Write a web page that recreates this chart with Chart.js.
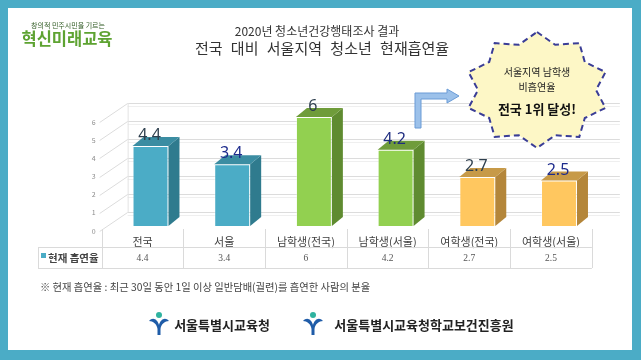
<!DOCTYPE html>
<html>
<head>
<meta charset="utf-8">
<title>전국 대비 서울지역 청소년 현재흡연율</title>
<style>
    body
    {
        margin: 0;
        width: 641px;
        height: 360px;
        background: #4bacc6;
        position: relative;
        overflow: hidden;
        font-family: "Noto Sans CJK KR", "Noto Sans", sans-serif;
    }

    #panel
    {
        position: absolute;
        left: 8px; top: 8px;
        width: 624px; height: 342px;
        background: #ffffff;
    }

    #barChart
    {
        position: absolute;
        left: 0; top: 0;
    }

    .txt
    {
        position: absolute;
        line-height: 1;
        white-space: nowrap;
        transform: translate(-50%, -50%);
    }

    svg.deco
    {
        position: absolute;
        left: 0; top: 0;
    }
</style>
<script src="https://cdn.jsdelivr.net/npm/chart.js"></script>
</head>
<body>
<div id="panel"></div>
<canvas id="barChart" width="641" height="360"></canvas>

<svg class="deco" width="641" height="360">
    <!-- arrow pointing at the callout -->
    <path d="M415,128 L415,93 L447,93 L447,89 L459,96 L447,103 L447,99 L421,99 L421,128 Z"
          fill="#9cc1ea" stroke="#6a9bd6" stroke-width="1"/>
    <polygon id="star" fill="#fdf7c6" stroke="#3a3d96" stroke-width="2" stroke-dasharray="6 4"/>
    <!-- footer emblems -->
    <g transform="translate(148,312)">
        <circle cx="11" cy="3" r="3" fill="#2fb3a0"/>
        <path d="M1,9 C5,4 10,8 11,13 C12,8 17,4 21,9 C17,9 13,12 12.5,17 L12.5,23 L9.5,23 L9.5,17 C9,12 5,9 1,9 Z" fill="#1f5ca8"/>
    </g>
    <g transform="translate(302,312)">
        <circle cx="11" cy="3" r="3" fill="#2fb3a0"/>
        <path d="M1,9 C5,4 10,8 11,13 C12,8 17,4 21,9 C17,9 13,12 12.5,17 L12.5,23 L9.5,23 L9.5,17 C9,12 5,9 1,9 Z" fill="#1f5ca8"/>
    </g>
</svg>

<div class="txt" style="left:68px; top:25px; font-size:7px; color:#2f5a22;">창의적 민주시민을 기르는</div>
<div class="txt" style="left:67px; top:38px; font-size:16.5px; font-weight:bold; color:#5ea332;">혁신미래교육</div>

<div class="txt" style="left:317px; top:31px; font-size:12px; color:#333;">2020년 청소년건강행태조사 결과</div>
<div class="txt" style="left:322px; top:47px; font-size:15px; color:#333; word-spacing:5px;">전국 대비 서울지역 청소년 현재흡연율</div>

<div class="txt" style="left:537px; top:72px; font-size:10px; color:#222;">서울지역 남학생</div>
<div class="txt" style="left:537px; top:87px; font-size:10px; color:#222;">비흡연율</div>
<div class="txt" style="left:537px; top:108px; font-size:13px; font-weight:bold; color:#111;">전국 1위 달성!</div>

<div class="txt" style="left:40px; top:287px; font-size:10.3px; color:#444; transform:translate(0,-50%);">※ 현재 흡연율 : 최근 30일 동안 1일 이상 일반담배(궐련)를 흡연한 사람의 분율</div>

<div class="txt" style="left:222px; top:324px; font-size:13px; font-weight:bold; color:#222;">서울특별시교육청</div>
<div class="txt" style="left:424px; top:324px; font-size:13px; font-weight:bold; color:#222;">서울특별시교육청학교보건진흥원</div>

<script>
    // chart data
    const categories = ["전국", "서울", "남학생(전국)", "남학생(서울)", "여학생(전국)", "여학생(서울)"];
    const smokingRate = [4.4, 3.4, 6, 4.2, 2.7, 2.5];
    const yTicks = [0, 1, 2, 3, 4, 5, 6];
    const seriesLabel = "현재 흡연율";

    // bar face colours (front / side / top) and value label colours
    const frontColors = ["#4bacc6", "#4bacc6", "#92d050", "#92d050", "#ffc75f", "#ffc75f"];
    const sideColors  = ["#2f7b8e", "#2f7b8e", "#5f8b30", "#5f8b30", "#b4863a", "#b4863a"];
    const topColors   = ["#3b8da2", "#3b8da2", "#6f9c3a", "#6f9c3a", "#c79a48", "#c79a48"];
    const labelColors = ["#2e3f4e", "#1d2b8c", "#2e3f4e", "#1f2d80", "#2e3f4e", "#1d2b8c"];

    // starburst outline for the callout
    (function ()
    {
        let pts = [];
        for (let i = 0; i < 20; i++)
        {
            const a = -Math.PI / 2 + i * Math.PI / 10;
            const r = i % 2 === 0 ? 1 : 0.82;
            pts.push((537 + 72 * r * Math.cos(a)).toFixed(1) + "," + (90 + 58 * r * Math.sin(a)).toFixed(1));
        }
        document.getElementById("star").setAttribute("points", pts.join(" "));
    })();

    const DX = 11, DY = -9;

    const bars3d = {
        id: "bars3d",
        beforeDatasetsDraw(chart)
        {
            const {ctx, chartArea, scales: {y}} = chart;
            ctx.save();
            ctx.lineWidth = 1;
            yTicks.forEach(v => {
                const yf = Math.round(y.getPixelForValue(v) + 5) + 0.5;
                ctx.strokeStyle = "#dcdcdc";
                ctx.beginPath();
                ctx.moveTo(chartArea.left - 10, yf);
                ctx.lineTo(chartArea.left + 18, yf - 19);
                ctx.lineTo(chartArea.right + 20, yf - 19);
                ctx.stroke();
                ctx.strokeStyle = "#efefef";
                ctx.beginPath();
                ctx.moveTo(chartArea.left + 18, yf - 16);
                ctx.lineTo(chartArea.right + 20, yf - 16);
                ctx.stroke();
            });
            ctx.strokeStyle = "#e4e4e4";
            ctx.beginPath();
            ctx.moveTo(chartArea.left + 18.5, y.getPixelForValue(0) - 14);
            ctx.lineTo(chartArea.left + 18.5, y.getPixelForValue(6) - 14);
            ctx.stroke();
            ctx.restore();
        },
        afterDatasetsDraw(chart)
        {
            const ctx = chart.ctx;
            const meta = chart.getDatasetMeta(0);
            ctx.save();
            meta.data.forEach((bar, i) => {
                const l = bar.x - bar.width / 2, r = bar.x + bar.width / 2;
                ctx.fillStyle = sideColors[i];
                ctx.beginPath();
                ctx.moveTo(r, bar.y);
                ctx.lineTo(r + DX, bar.y + DY);
                ctx.lineTo(r + DX, bar.base + DY);
                ctx.lineTo(r, bar.base);
                ctx.closePath();
                ctx.fill();
                ctx.fillStyle = topColors[i];
                ctx.beginPath();
                ctx.moveTo(l, bar.y);
                ctx.lineTo(l + DX, bar.y + DY);
                ctx.lineTo(r + DX, bar.y + DY);
                ctx.lineTo(r, bar.y);
                ctx.closePath();
                ctx.fill();

                ctx.fillStyle = labelColors[i];
                ctx.font = '16px "Noto Sans", sans-serif';
                ctx.textAlign = "center";
                ctx.textBaseline = "alphabetic";
                ctx.fillText(String(smokingRate[i]), bar.x - 1, bar.y - 6);
            });
            ctx.restore();
        },
        afterDraw(chart)
        {
            // data table under the axis
            const {ctx, scales: {x}} = chart;
            const step = x.getPixelForValue(1) - x.getPixelForValue(0);
            const first = x.getPixelForValue(0) - 8 - step / 2;
            const last = x.getPixelForValue(categories.length - 1) - 8 + step / 2;
            ctx.save();
            ctx.strokeStyle = "#dadada";
            ctx.lineWidth = 1;
            for (let i = 0; i <= categories.length; i++)
            {
                const xx = Math.round(first + i * step) + 0.5;
                ctx.beginPath();
                ctx.moveTo(xx, 229);
                ctx.lineTo(xx, 268);
                ctx.stroke();
            }
            [247.5, 268.5].forEach(yy => {
                ctx.beginPath();
                ctx.moveTo(38, yy);
                ctx.lineTo(last, yy);
                ctx.stroke();
            });
            ctx.beginPath();
            ctx.moveTo(38.5, 247);
            ctx.lineTo(38.5, 268);
            ctx.stroke();

            ctx.fillStyle = "#555";
            ctx.font = '9.5px "Liberation Serif", serif';
            ctx.textAlign = "center";
            ctx.textBaseline = "middle";
            smokingRate.forEach((v, i) => {
                ctx.fillText(String(v), x.getPixelForValue(i) - 8, 258);
            });

            ctx.fillStyle = frontColors[0];
            ctx.fillRect(41, 253, 5, 5);
            ctx.fillStyle = "#444";
            ctx.font = 'bold 10.5px "Noto Sans CJK KR", sans-serif';
            ctx.textAlign = "left";
            ctx.fillText(seriesLabel, 48, 258);
            ctx.restore();
        }
    };

    Chart.defaults.font.family = '"Noto Sans CJK KR", "Noto Sans", sans-serif';

    new Chart(document.getElementById("barChart"), {
        type: "bar",
        data: {
            labels: categories,
            datasets: [{
                label: seriesLabel,
                data: smokingRate,
                backgroundColor: frontColors,
                borderColor: "rgba(255,255,255,0.35)",
                borderWidth: 1,
                barPercentage: 0.44,
                categoryPercentage: 1
            }]
        },
        options: {
            responsive: false,
            animation: false,
            layout: {padding: {left: 60, right: 41.15, top: 117, bottom: 104}},
            plugins: {
                legend: {display: false},
                tooltip: {enabled: false}
            },
            scales: {
                x: {
                    grid: {display: false, drawTicks: false},
                    border: {display: false},
                    ticks: {
                        labelOffset: -8, padding: 9, color: "#404040",
                        font: {size: 11}, maxRotation: 0, autoSkip: false
                    },
                    afterFit: s => { s.height = 30; }
                },
                y: {
                    min: 0, max: 6,
                    grid: {display: false, drawTicks: false},
                    border: {display: false},
                    ticks: {
                        stepSize: 1, padding: 14, labelOffset: 5,
                        color: "#8c8c8c", font: {size: 7}
                    },
                    afterFit: s => { s.width = 49.65; }
                }
            }
        },
        plugins: [bars3d]
    });
</script>
</body>
</html>
